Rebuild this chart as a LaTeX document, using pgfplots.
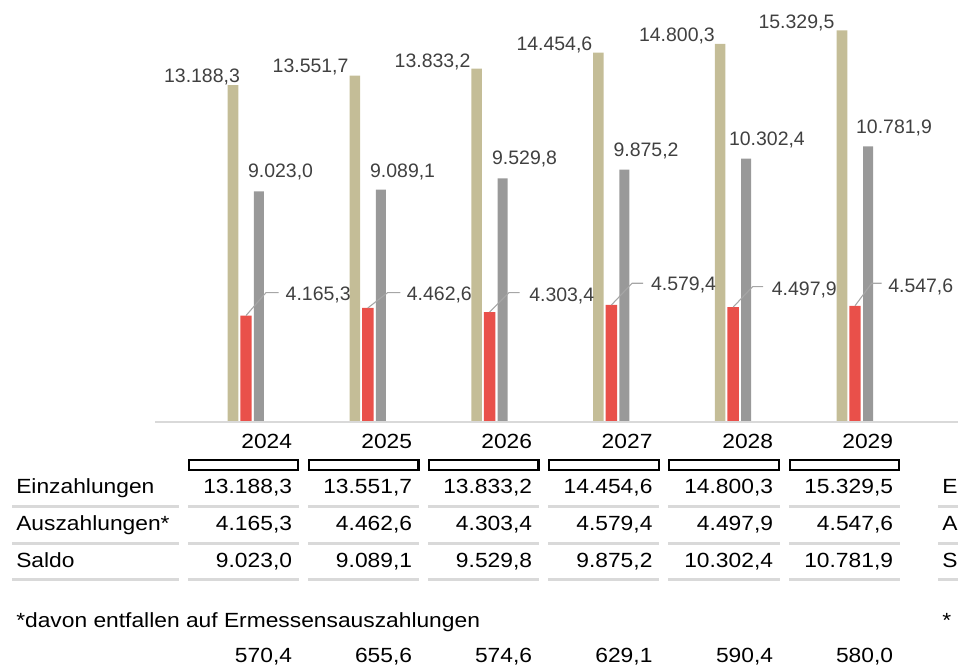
\documentclass[border=0pt]{standalone}
\usepackage{pgfplots}
\pgfplotsset{compat=1.18}
\usepackage{fontspec}
\setmainfont{Liberation Sans}
\newfontfamily\tabfont[FakeStretch=1.11]{Liberation Sans}
\definecolor{beige}{HTML}{C4BD97}
\definecolor{redbar}{HTML}{E9504A}
\definecolor{greybar}{HTML}{999999}
\definecolor{lbl}{HTML}{404040}
\definecolor{sep}{HTML}{D9D9D9}
\definecolor{lead}{HTML}{A6A6A6}
\begin{document}
\begin{tikzpicture}[
  lab/.style={font=\fontsize{14.6pt}{17pt}\selectfont, text=lbl, inner sep=0pt},
  tab/.style={font=\tabfont\fontsize{15.4pt}{18pt}\selectfont, inner sep=0pt, text=black}]
\useasboundingbox (0,0) rectangle (718.5pt,-499.5pt);
\clip (0,0) rectangle (718.5pt,-499.5pt);
\begin{axis}[
  at={(116.25pt,-316.5pt)}, anchor=south west,
  scale only axis, width=602.25pt, height=316.5pt,
  xmin=-0.7471, xmax=5.8456, ymin=0, ymax=16515,
  hide axis, clip=false, ybar,
]
\addplot[fill=beige, draw=none, bar width=7.9pt, bar shift=-9.75pt] coordinates {(0,13188.3) (1,13551.7) (2,13833.2) (3,14454.6) (4,14800.3) (5,15329.5)};
\addplot[fill=redbar, draw=none, bar width=8.6pt, bar shift=0pt] coordinates {(0,4165.3) (1,4462.6) (2,4303.4) (3,4579.4) (4,4497.9) (5,4547.6)};
\addplot[fill=greybar, draw=none, bar width=7.5pt, bar shift=9.75pt] coordinates {(0,9023.0) (1,9089.1) (2,9529.8) (3,9875.2) (4,10302.4) (5,10781.9)};
\draw[sep, line width=1.1pt] (rel axis cs:0,0) -- (rel axis cs:1,0);
% Einzahlungen labels
\node[lab, anchor=base, xshift=-33pt, yshift=2.25pt] at (axis cs:0,13188.3) {13.188,3};
\node[lab, anchor=base, xshift=-42.9pt, yshift=2.4pt] at (axis cs:1,13551.7) {13.551,7};
\node[lab, anchor=base, xshift=-42.75pt, yshift=0.4pt] at (axis cs:2,13833.2) {13.833,2};
\node[lab, anchor=base, xshift=-42.75pt, yshift=1.9pt] at (axis cs:3,14454.6) {14.454,6};
\node[lab, anchor=base, xshift=-42.2pt, yshift=1.5pt] at (axis cs:4,14800.3) {14.800,3};
\node[lab, anchor=base, xshift=-43.9pt, yshift=1.5pt] at (axis cs:5,15329.5) {15.329,5};
% Saldo labels
\node[lab, anchor=base, xshift=25.9pt, yshift=10.5pt] at (axis cs:0,9023.0) {9.023,0};
\node[lab, anchor=base, xshift=26.1pt, yshift=9.5pt] at (axis cs:1,9089.1) {9.089,1};
\node[lab, anchor=base, xshift=26.25pt, yshift=10.5pt] at (axis cs:2,9529.8) {9.529,8};
\node[lab, anchor=base, xshift=26pt, yshift=10.1pt] at (axis cs:3,9875.2) {9.875,2};
\node[lab, anchor=base, xshift=25.3pt, yshift=10.3pt] at (axis cs:4,10302.4) {10.302,4};
\node[lab, anchor=base, xshift=29.25pt, yshift=9.75pt] at (axis cs:5,10781.9) {10.781,9};
% Auszahlungen labels with leaders
\draw[lead, line width=0.8pt] (axis cs:0,4165.3) -- ++(15pt,17.2pt) -- ++(9.4pt,0pt);
\draw[lead, line width=0.8pt] (axis cs:1,4462.6) -- ++(14.85pt,11.5pt) -- ++(9.55pt,0pt);
\draw[lead, line width=0.8pt] (axis cs:2,4303.4) -- ++(14.55pt,14.5pt) -- ++(8.05pt,0pt);
\draw[lead, line width=0.8pt] (axis cs:3,4579.4) -- ++(15.5pt,16.3pt) -- ++(8.3pt,0pt);
\draw[lead, line width=0.8pt] (axis cs:4,4497.9) -- ++(14.55pt,15.3pt) -- ++(7.95pt,0pt);
\draw[lead, line width=0.8pt] (axis cs:5,4547.6) -- ++(12.5pt,16.9pt) -- ++(7.5pt,0pt);
\node[lab, anchor=base west, xshift=29.6pt, yshift=10.95pt] at (axis cs:0,4165.3) {4.165,3};
\node[lab, anchor=base west, xshift=29.1pt, yshift=5.25pt] at (axis cs:1,4462.6) {4.462,6};
\node[lab, anchor=base west, xshift=29.55pt, yshift=8pt] at (axis cs:2,4303.4) {4.303,4};
\node[lab, anchor=base west, xshift=29.55pt, yshift=10.5pt] at (axis cs:3,4579.4) {4.579,4};
\node[lab, anchor=base west, xshift=28.8pt, yshift=8.3pt] at (axis cs:4,4497.9) {4.497,9};
\node[lab, anchor=base west, xshift=24.75pt, yshift=10pt] at (axis cs:5,4547.6) {4.547,6};
\end{axis}
\begin{scope}[x=0.75pt,y=-0.75pt]
% year labels
\node[tab, anchor=base east] at (292.3,448.3) {2024};
\node[tab, anchor=base east] at (412.3,448.3) {2025};
\node[tab, anchor=base east] at (532.3,448.3) {2026};
\node[tab, anchor=base east] at (652.7,448.3) {2027};
\node[tab, anchor=base east] at (773.3,448.3) {2028};
\node[tab, anchor=base east] at (893.3,448.3) {2029};
% header boxes
\foreach \l/\r in {188.8/298, 308.8/418.5, 428.8/538.5, 549.2/658.6, 669.2/779.2, 790.2/899.4}{
  \draw[black, line width=1.6pt] (\l,460.2) rectangle (\r,469.8);
}
% separators
\foreach \yy in {506.7,543.3,580}{
  \foreach \l/\r in {12/179, 188/299, 308/419, 428/539, 548/659, 668/780, 789/900, 938/980}{
    \draw[sep, line width=2.25pt] (\l,\yy) -- (\r,\yy);
  }
}
% row labels
\node[tab, anchor=base west] at (16,494) {Einzahlungen};
\node[tab, anchor=base west] at (16,530.6) {Auszahlungen*};
\node[tab, anchor=base west] at (16,567.3) {Saldo};
\node[tab, anchor=base west] at (16,627.3) {*davon entfallen auf Ermessensauszahlungen};
% visible start of the repeated table at the right edge
\node[tab, anchor=base west] at (942,494) {E};
\node[tab, anchor=base west] at (942,530.6) {A};
\node[tab, anchor=base west] at (942,567.3) {S};
\node[tab, anchor=base west] at (942,627.3) {*};
% Einzahlungen
\node[tab, anchor=base east] at (292.3,494) {13.188,3};
\node[tab, anchor=base east] at (412.3,494) {13.551,7};
\node[tab, anchor=base east] at (532.3,494) {13.833,2};
\node[tab, anchor=base east] at (652.7,494) {14.454,6};
\node[tab, anchor=base east] at (773.3,494) {14.800,3};
\node[tab, anchor=base east] at (893.3,494) {15.329,5};
% Auszahlungen
\node[tab, anchor=base east] at (292.3,530.6) {4.165,3};
\node[tab, anchor=base east] at (412.3,530.6) {4.462,6};
\node[tab, anchor=base east] at (532.3,530.6) {4.303,4};
\node[tab, anchor=base east] at (652.7,530.6) {4.579,4};
\node[tab, anchor=base east] at (773.3,530.6) {4.497,9};
\node[tab, anchor=base east] at (893.3,530.6) {4.547,6};
% Saldo
\node[tab, anchor=base east] at (292.3,567.3) {9.023,0};
\node[tab, anchor=base east] at (412.3,567.3) {9.089,1};
\node[tab, anchor=base east] at (532.3,567.3) {9.529,8};
\node[tab, anchor=base east] at (652.7,567.3) {9.875,2};
\node[tab, anchor=base east] at (773.3,567.3) {10.302,4};
\node[tab, anchor=base east] at (893.3,567.3) {10.781,9};
% Ermessensauszahlungen
\node[tab, anchor=base east] at (292.3,662.3) {570,4};
\node[tab, anchor=base east] at (412.3,662.3) {655,6};
\node[tab, anchor=base east] at (532.3,662.3) {574,6};
\node[tab, anchor=base east] at (652.7,662.3) {629,1};
\node[tab, anchor=base east] at (773.3,662.3) {590,4};
\node[tab, anchor=base east] at (893.3,662.3) {580,0};
\end{scope}
\end{tikzpicture}
\end{document}
